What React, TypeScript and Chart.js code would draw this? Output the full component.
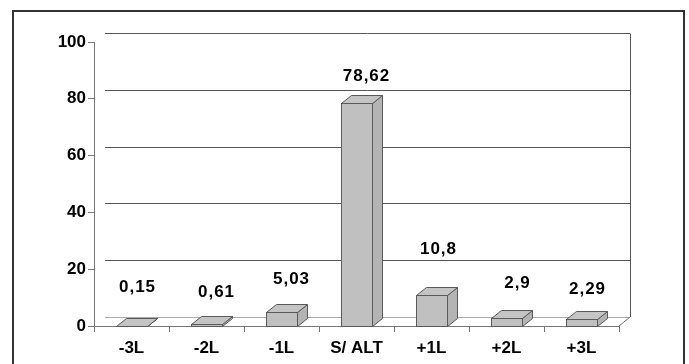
import React, { useEffect, useRef } from "react";
import { Chart, registerables } from "chart.js";

Chart.register(...registerables);

const categories = ["-3L", "-2L", "-1L", "S/ ALT", "+1L", "+2L", "+3L"];
const values = [0.15, 0.61, 5.03, 78.62, 10.8, 2.9, 2.29];
const valueLabels = ["0,15", "0,61", "5,03", "78,62", "10,8", "2,9", "2,29"];
const yTicks = [0, 20, 40, 60, 80, 100];

// label placement (style only)
const labelLift = [38, 32, 32, 26, 46, 34, 30];
const labelDx = [6, 10, 10, 10, 7, 11, 6];

const FONT = "'Liberation Sans', Arial, sans-serif";
const WALL_DX = 11;
const WALL_DY = -9;
const BAR_DX = 10;
const BAR_DY = -8;

const threeD = {
  id: "threeD",
  beforeDraw(chart: any) {
    const ctx = chart.ctx;
    ctx.save();
    ctx.fillStyle = "#ffffff";
    ctx.fillRect(0, 0, chart.width, chart.height);
    ctx.lineWidth = 2;
    ctx.strokeStyle = "#333333";
    ctx.beginPath();
    ctx.moveTo(13, 380);
    ctx.lineTo(13, 11);
    ctx.lineTo(684, 11);
    ctx.lineTo(684, 380);
    ctx.stroke();
    ctx.restore();
  },
  beforeDatasetsDraw(chart: any) {
    const ctx = chart.ctx;
    const { left, right, bottom } = chart.chartArea;
    const y = chart.scales.y;
    ctx.save();
    ctx.lineWidth = 1;
    ctx.strokeStyle = "#555555";
    yTicks.forEach((t) => {
      if (t === 0) return;
      const py = Math.round(y.getPixelForValue(t) + WALL_DY) + 0.5;
      ctx.beginPath();
      ctx.moveTo(left + WALL_DX, py);
      ctx.lineTo(right + WALL_DX, py);
      ctx.stroke();
    });
    const topY = Math.round(y.getPixelForValue(100) + WALL_DY) + 0.5;
    const rx = Math.round(right + WALL_DX) + 0.5;
    ctx.beginPath();
    ctx.moveTo(rx, topY);
    ctx.lineTo(rx, bottom + WALL_DY);
    ctx.stroke();
    ctx.strokeStyle = "#aaaaaa";
    const fy = Math.round(bottom + WALL_DY) + 0.5;
    ctx.beginPath();
    ctx.moveTo(left + WALL_DX, fy);
    ctx.lineTo(right + WALL_DX, fy);
    ctx.stroke();
    ctx.strokeStyle = "#777777";
    ctx.beginPath();
    ctx.moveTo(right, bottom);
    ctx.lineTo(right + WALL_DX, bottom + WALL_DY);
    ctx.stroke();
    ctx.restore();
  },
  afterDatasetsDraw(chart: any) {
    const ctx = chart.ctx;
    const meta = chart.getDatasetMeta(0);
    ctx.save();
    ctx.lineWidth = 1;
    ctx.strokeStyle = "#5a5a5a";
    meta.data.forEach((bar: any) => {
      const l = Math.round(bar.x - bar.width / 2) + 0.5;
      const r = Math.round(bar.x + bar.width / 2) + 0.5;
      const t = Math.round(bar.y) + 0.5;
      const b = Math.round(bar.base) + 0.5;
      ctx.fillStyle = "#b4b4b4";
      ctx.beginPath();
      ctx.moveTo(r, t);
      ctx.lineTo(r + BAR_DX, t + BAR_DY);
      ctx.lineTo(r + BAR_DX, b + BAR_DY);
      ctx.lineTo(r, b);
      ctx.closePath();
      ctx.fill();
      ctx.stroke();
      ctx.fillStyle = "#c4c4c4";
      ctx.beginPath();
      ctx.moveTo(l, t);
      ctx.lineTo(l + BAR_DX, t + BAR_DY);
      ctx.lineTo(r + BAR_DX, t + BAR_DY);
      ctx.lineTo(r, t);
      ctx.closePath();
      ctx.fill();
      ctx.stroke();
      ctx.fillStyle = "#c0c0c0";
      ctx.fillRect(l, t, r - l, b - t);
      ctx.strokeRect(l, t, r - l, b - t);
    });
    ctx.fillStyle = "#000000";
    ctx.font = `bold 17px ${FONT}`;
    (ctx as any).letterSpacing = "1px";
    ctx.textAlign = "center";
    ctx.textBaseline = "middle";
    meta.data.forEach((bar: any, i: number) => {
      ctx.fillText(valueLabels[i], bar.x + labelDx[i], bar.y - labelLift[i]);
    });
    ctx.restore();
  },
};

export default function App() {
  const ref = useRef<HTMLCanvasElement>(null);
  useEffect(() => {
    if (!ref.current) return;
    const chart = new Chart(ref.current, {
      type: "bar",
      data: {
        labels: categories,
        datasets: [
          {
            data: values,
            backgroundColor: "rgba(0,0,0,0)",
            borderWidth: 0,
            barThickness: 31,
          },
        ],
      },
      options: {
        responsive: false,
        animation: false,
        events: [],
        layout: { padding: { top: 42, right: 70, left: 0, bottom: 0 } },
        plugins: { legend: { display: false }, tooltip: { enabled: false } },
        scales: {
          x: {
            afterFit: (s: any) => {
              s.height = 38;
            },
            grid: {
              drawOnChartArea: false,
              drawTicks: true,
              tickLength: 6,
              color: "#777777",
              offset: true,
            },
            border: { color: "#777777" },
            ticks: {
              color: "#000000",
              font: { family: FONT, size: 17, weight: "bold" },
              padding: 6,
              maxRotation: 0,
              autoSkip: false,
            },
          },
          y: {
            min: 0,
            max: 100,
            afterFit: (s: any) => {
              s.width = 94;
            },
            grid: {
              drawOnChartArea: false,
              drawTicks: true,
              tickLength: 6,
              color: "#777777",
            },
            border: { color: "#777777" },
            ticks: {
              stepSize: 20,
              color: "#000000",
              font: { family: FONT, size: 17, weight: "bold" },
              padding: 2,
            },
          },
        },
      },
      plugins: [threeD],
    });
    return () => chart.destroy();
  }, []);
  return (
    <div style={{ position: "absolute", left: 0, top: 0, width: 689, height: 364 }}>
      <canvas ref={ref} width={689} height={364} />
    </div>
  );
}
